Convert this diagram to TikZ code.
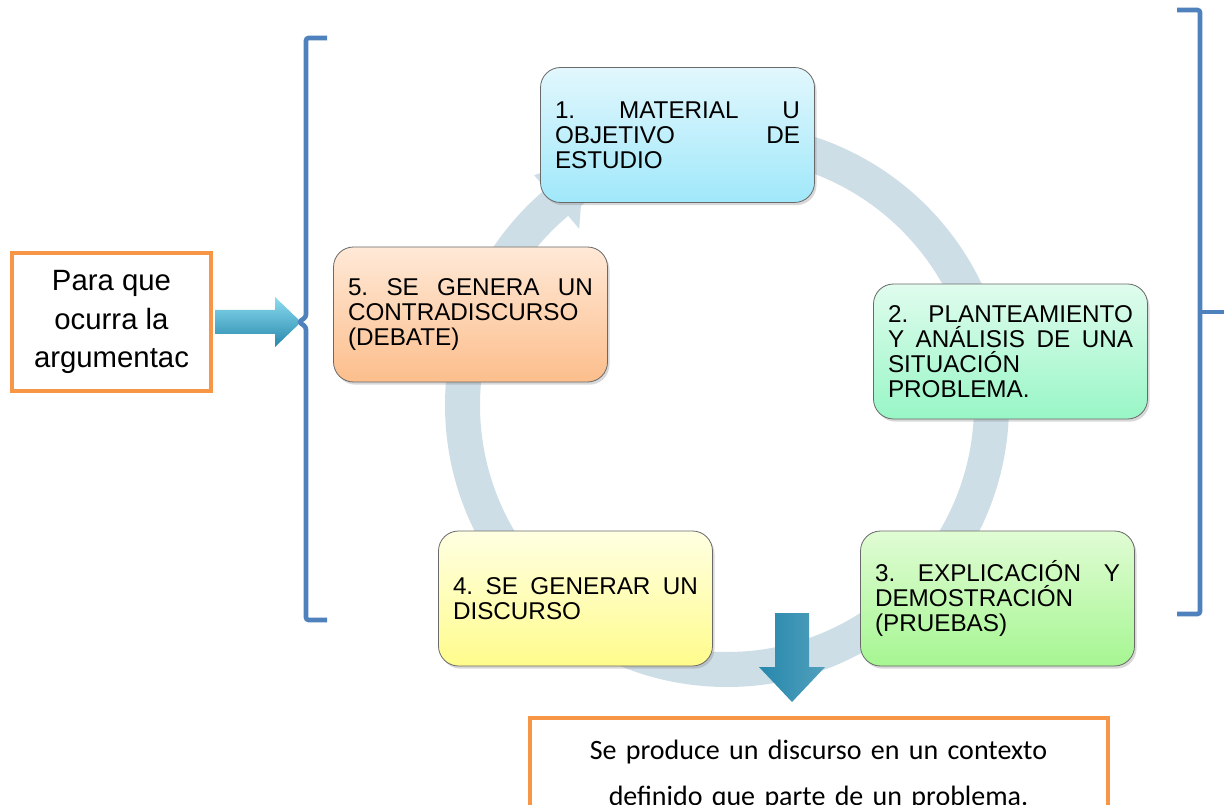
\documentclass[tikz,border=0pt]{standalone}
\usepackage{fontspec}
\setmainfont{Liberation Sans}
\newfontfamily\calibri{Carlito}
\usetikzlibrary{shadows}
\definecolor{ringblue}{RGB}{206,222,231}
\definecolor{bracketblue}{RGB}{79,129,189}
\definecolor{boxorange}{RGB}{247,150,70}
\definecolor{arrowdark}{RGB}{38,136,172}
\definecolor{arrowlight}{RGB}{140,220,240}
\definecolor{edgegray}{RGB}{105,105,105}
\definecolor{oneTop}{RGB}{226,247,253}
\definecolor{oneBot}{RGB}{160,232,250}
\definecolor{twoTop}{RGB}{224,252,238}
\definecolor{twoBot}{RGB}{152,246,198}
\definecolor{threeTop}{RGB}{224,252,212}
\definecolor{threeBot}{RGB}{166,246,146}
\definecolor{fourTop}{RGB}{255,255,226}
\definecolor{fourBot}{RGB}{255,252,140}
\definecolor{fiveTop}{RGB}{255,233,215}
\definecolor{fiveBot}{RGB}{252,190,140}

\begin{document}
\begin{tikzpicture}[x=0.75pt,y=0.75pt,
  stage/.style={rectangle, rounded corners=15pt, draw=edgegray, line width=0.6pt,
    minimum width=205.5pt, minimum height=101.25pt, text width=183.75pt, inner sep=0pt,
    align=left, font=\fontsize{18.2}{18.75}\selectfont,
    drop shadow={shadow xshift=1.5pt, shadow yshift=-2pt, opacity=0.3}},
  framebox/.style={rectangle, draw=boxorange, line width=3pt, fill=white, align=center},
  bracket/.style={draw=bracketblue, line width=3.5pt, rounded corners=2pt},
  blockarrow/.style={draw=none}]
  \clip (0,0) rectangle (1231,-805);
  \fill[white] (0,0) rectangle (1231,-805);

  % cycle ring
  \coordinate (hub) at (727,-405);
  \draw[ringblue, line width=26.25pt] (hub) circle (264.5);
  \fill[ringblue] ([shift={(130:230)}]hub) -- ([shift={(130:300)}]hub) -- ([shift={(120:285)}]hub) -- cycle;

  % stages
  \node[stage, top color=oneTop, bottom color=oneBot] (material) at (677.5,-135)
    {1.\hfill MATERIAL\hfill U\\OBJETIVO\hfill DE\\ESTUDIO};
  \node[stage, top color=twoTop, bottom color=twoBot] (planteamiento) at (1010.5,-351.5)
    {2.\hfill PLANTEAMIENTO\\Y\hfill ANÁLISIS\hfill DE\hfill UNA\\SITUACIÓN\\PROBLEMA.};
  \node[stage, top color=threeTop, bottom color=threeBot] (explicacion) at (997.5,-598.5)
    {3.\hfill EXPLICACIÓN\hfill Y\\DEMOSTRACIÓN\\(PRUEBAS)};
  \node[stage, top color=fourTop, bottom color=fourBot] (discurso) at (575.5,-598.5)
    {4.\hfill SE\hfill GENERAR\hfill UN\\DISCURSO};
  \node[stage, top color=fiveTop, bottom color=fiveBot] (contradiscurso) at (470.5,-314.5)
    {5.\hfill SE\hfill GENERA\hfill UN\\CONTRADISCURSO\\(DEBATE)};

  % input box and arrow
  \node[framebox, minimum width=149.25pt, minimum height=103.5pt,
    font=\fontsize{22}{29}\selectfont] (para) at (111.5,-322) {Para que\\ocurra la\\argumentac};
  \shade[blockarrow, top color=arrowlight, bottom color=arrowdark]
    (para.east) ++(2,12) -- ++(60,0) -- ++(0,13) -- ++(26,-25) -- ++(-26,-25)
    -- ++(0,13) -- ++(-60,0) -- cycle;

  % brackets
  \draw[bracket] (327,-38) -- (306,-38) -- (306,-317) -- (299,-322) -- (306,-327)
    -- (306,-620) -- (327,-620);
  \draw[bracket] (1177,-10) -- (1200,-10) -- (1200,-614) -- (1177,-614);
  \draw[bracket] (1200,-312) -- (1224,-312);

  % result box and arrow
  \node[framebox, anchor=north, minimum width=433.5pt, text width=420pt,
    inner ysep=16.5pt, text depth=20pt, font=\calibri\fontsize{21}{34.5}\selectfont]
    (result) at (818.5,-716) {Se produce un discurso en un contexto\\definido que parte de un problema.};
  \shade[blockarrow, left color=arrowdark, middle color=arrowlight, right color=arrowdark!80]
    (result.north) ++(-26.5,14) -- ++(-33,35) -- ++(16,0) -- ++(0,54) -- ++(34,0)
    -- ++(0,-54) -- ++(16,0) -- cycle;
\end{tikzpicture}
\end{document}
